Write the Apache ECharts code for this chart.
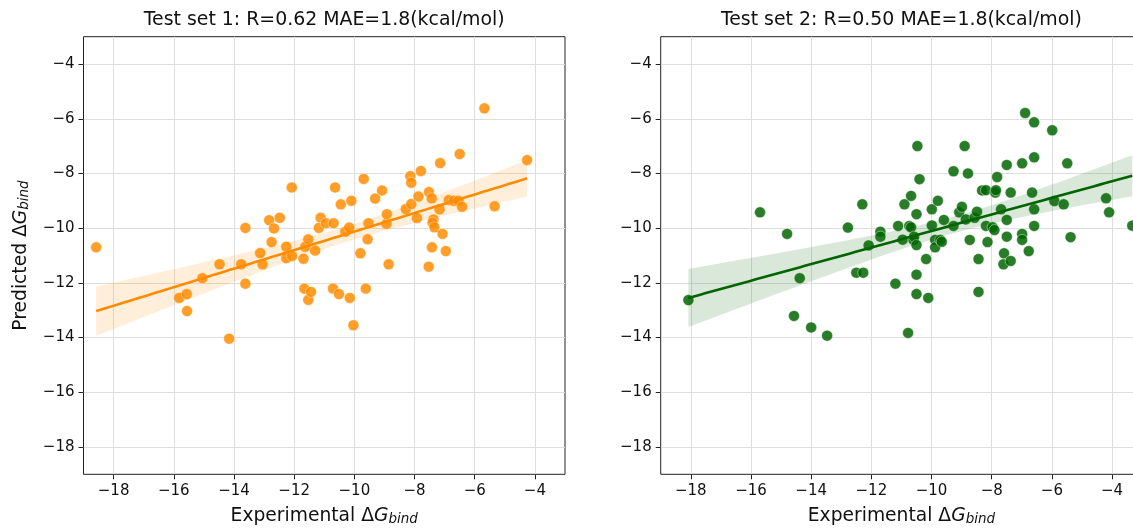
<!DOCTYPE html>
<html>
<head>
<meta charset="utf-8">
<script src="https://cdn.jsdelivr.net/npm/echarts@6/dist/echarts.min.js"></script>
<style>
  html, body { margin: 0; padding: 0; background: #fff; }
  #chart { width: 1133px; height: 529px; }
</style>
</head>
<body>
<div id="chart"></div>
<script>
// ---- Data ----
const titles = [
  'Test set 1: R=0.62 MAE=1.8(kcal/mol)',
  'Test set 2: R=0.50 MAE=1.8(kcal/mol)'
];
const tickValues = [-18, -16, -14, -12, -10, -8, -6, -4];

const set1X = [-18.58,-15.82,-15.57,-15.56,-15.05,-14.48,-14.16,-13.76,-13.62,-13.62,-13.13,-13.05,-12.83,-12.75,-12.67,-12.48,-12.26,-12.26,-12.08,-12.07,-11.69,-11.66,-11.63,-11.53,-11.53,-11.44,-11.30,-11.12,-11.18,-10.94,-10.71,-10.69,-10.64,-10.51,-10.45,-10.30,-10.17,-10.15,-10.10,-10.03,-9.80,-9.69,-9.62,-9.56,-9.53,-9.31,-9.08,-8.93,-8.92,-8.86,-8.29,-8.14,-8.11,-8.11,-7.92,-7.87,-7.79,-7.53,-7.52,-7.43,-7.42,-7.37,-7.40,-7.34,-7.17,-7.15,-7.07,-6.96,-6.86,-6.70,-6.54,-6.50,-6.42,-5.68,-5.34,-4.26];
const set1Y = [-10.70,-12.55,-12.41,-13.03,-11.83,-11.32,-14.04,-11.32,-9.99,-12.03,-10.91,-11.32,-9.71,-10.51,-10.01,-9.62,-10.68,-11.10,-8.51,-11.02,-11.12,-12.21,-10.68,-10.41,-12.62,-12.33,-10.82,-9.62,-9.99,-9.82,-12.21,-9.82,-8.51,-12.41,-9.13,-10.13,-9.98,-12.55,-9.00,-13.55,-10.92,-8.20,-12.21,-10.41,-9.82,-8.92,-8.62,-9.84,-9.49,-11.32,-9.30,-8.10,-8.34,-9.12,-9.63,-8.84,-7.91,-11.41,-8.68,-8.91,-10.70,-9.68,-9.80,-9.97,-9.31,-7.62,-10.21,-10.84,-8.97,-9.00,-9.00,-7.29,-9.22,-5.62,-9.20,-7.51];

const set2X = [-18.08,-15.70,-14.80,-14.57,-14.38,-14.00,-13.47,-12.78,-12.50,-12.30,-12.27,-12.09,-11.70,-11.70,-11.20,-11.11,-10.96,-10.90,-10.78,-10.74,-10.68,-10.68,-10.60,-10.58,-10.50,-10.50,-10.50,-10.50,-10.47,-10.40,-10.18,-10.11,-9.99,-9.99,-9.88,-9.88,-9.79,-9.71,-9.66,-9.59,-9.27,-9.27,-9.08,-8.99,-8.90,-8.86,-8.79,-8.73,-8.57,-8.49,-8.44,-8.44,-8.32,-8.19,-8.19,-8.14,-7.97,-7.91,-7.88,-7.86,-7.82,-7.69,-7.61,-7.59,-7.50,-7.50,-7.50,-7.37,-7.37,-6.99,-6.99,-6.99,-6.89,-6.77,-6.66,-6.59,-6.59,-6.59,-6.59,-5.99,-5.92,-5.61,-5.49,-5.38,-4.20,-4.10,-3.33];
const set2Y = [-12.63,-9.42,-10.21,-13.21,-11.83,-13.63,-13.93,-9.98,-11.63,-9.13,-11.63,-10.63,-10.13,-10.31,-12.03,-9.92,-10.42,-9.13,-13.83,-9.92,-8.82,-9.97,-10.43,-10.31,-9.49,-10.62,-11.70,-12.41,-7.00,-8.21,-11.13,-12.55,-9.31,-9.90,-10.43,-10.70,-9.00,-10.43,-10.50,-9.70,-7.92,-9.92,-9.42,-9.22,-7.00,-9.68,-8.00,-10.43,-9.62,-9.40,-11.13,-12.33,-8.62,-8.61,-9.92,-10.51,-9.97,-10.07,-8.70,-8.61,-8.13,-9.31,-11.32,-10.92,-7.69,-9.70,-10.31,-8.70,-11.20,-7.63,-10.21,-10.43,-5.79,-10.84,-8.70,-6.13,-7.41,-9.31,-9.92,-6.42,-9.01,-9.13,-7.63,-10.33,-8.91,-9.42,-9.91];

// ---- Linear fit with 95% confidence band (computed from the data) ----
function regression(xs, ys) {
  const n = xs.length;
  const mx = xs.reduce((a, b) => a + b, 0) / n;
  const my = ys.reduce((a, b) => a + b, 0) / n;
  let sxx = 0, sxy = 0;
  for (let i = 0; i < n; i++) { sxx += (xs[i] - mx) ** 2; sxy += (xs[i] - mx) * (ys[i] - my); }
  const b = sxy / sxx, a = my - b * mx;
  let sse = 0;
  for (let i = 0; i < n; i++) sse += (ys[i] - (a + b * xs[i])) ** 2;
  const s = Math.sqrt(sse / (n - 2));
  const t = 1.99;
  const xmin = Math.min(...xs), xmax = Math.max(...xs);
  const line = [], upper = [], lower = [];
  const steps = 80;
  for (let k = 0; k <= steps; k++) {
    const x = xmin + (xmax - xmin) * k / steps;
    const y = a + b * x;
    const h = t * s * Math.sqrt(1 / n + (x - mx) ** 2 / sxx);
    line.push([x, y]); upper.push([x, y + h]); lower.push([x, y - h]);
  }
  return { line, upper, lower };
}

const FONT = 'DejaVu Sans';
const minus = v => String(v).replace('-', '\u2212');

function makeAxes(idx, showYName) {
  const common = {
    type: 'value', min: -19, max: -3, gridIndex: idx,
    axisLine: { show: false },
    axisTick: { show: true, length: 5, customValues: tickValues, lineStyle: { color: '#222', width: 1 } },
    axisLabel: { customValues: tickValues, formatter: minus, color: '#111', fontFamily: FONT, fontSize: 15, margin: 9 },
    splitLine: { show: true, lineStyle: { color: '#dedede', width: 1 } }
  };
  const nameStyle = {
    fontFamily: FONT, fontSize: 18.7, color: '#111',
    rich: {
      g: { fontFamily: FONT, fontSize: 18.7, fontStyle: 'italic', color: '#111' },
      sub: { fontFamily: FONT, fontSize: 13.5, fontStyle: 'italic', color: '#111', verticalAlign: 'bottom', padding: [7, 0, 0, 0] }
    }
  };
  const x = Object.assign({}, common, {
    name: 'Experimental \u0394{g|G}{sub|bind}', nameLocation: 'middle', nameGap: 31, nameTextStyle: nameStyle
  });
  const y = Object.assign({}, common, showYName ? {
    name: 'Predicted \u0394{g|G}{sub|bind}', nameLocation: 'middle', nameGap: 52, nameRotate: 90, nameTextStyle: nameStyle
  } : {});
  return { x, y };
}

function makeSeries(idx, xs, ys, color) {
  const r = regression(xs, ys);
  const pts = xs.map((x, i) => [x, ys[i]]);
  const poly = r.upper.concat(r.lower.slice().reverse());
  return [
    {
      type: 'scatter', xAxisIndex: idx, yAxisIndex: idx, data: pts, symbolSize: 11, z: 2,
      itemStyle: { color: color, opacity: 0.84, borderColor: '#ffffff', borderWidth: 0.5 }
    },
    {
      type: 'custom', xAxisIndex: idx, yAxisIndex: idx, data: [0], z: 3, silent: true,
      renderItem: function (params, api) {
        return {
          type: 'polygon',
          shape: { points: poly.map(p => api.coord(p)) },
          style: { fill: color, opacity: 0.15 }
        };
      }
    },
    {
      type: 'line', xAxisIndex: idx, yAxisIndex: idx, data: r.line, showSymbol: false, z: 4,
      lineStyle: { color: color, width: 2.6 }, silent: true
    }
  ];
}

const a1 = makeAxes(0, true), a2 = makeAxes(1, false);
const chart = echarts.init(document.getElementById('chart'), null, { renderer: 'canvas' });
chart.setOption({
  animation: false,
  backgroundColor: '#ffffff',
  grid: [
    { left: 83.5, top: 36.7, width: 481.5, height: 437.6, outerBoundsMode: 'none', containLabel: false, show: true, borderColor: '#222', borderWidth: 1, backgroundColor: 'transparent' },
    { left: 660.7, top: 36.7, width: 481.5, height: 437.6, outerBoundsMode: 'none', containLabel: false, show: true, borderColor: '#222', borderWidth: 1, backgroundColor: 'transparent' }
  ],
  xAxis: [a1.x, a2.x],
  yAxis: [a1.y, a2.y],
  graphic: [
    { type: 'text', x: 324.2, y: 20, style: { text: titles[0], fontFamily: FONT, fontSize: 18.9, fill: '#111', textAlign: 'center', textVerticalAlign: 'middle' } },
    { type: 'text', x: 901.4, y: 20, style: { text: titles[1], fontFamily: FONT, fontSize: 18.9, fill: '#111', textAlign: 'center', textVerticalAlign: 'middle' } }
  ],
  series: [].concat(
    makeSeries(0, set1X, set1Y, '#ff8c00'),
    makeSeries(1, set2X, set2Y, '#006400')
  )
});
</script>
</body>
</html>
